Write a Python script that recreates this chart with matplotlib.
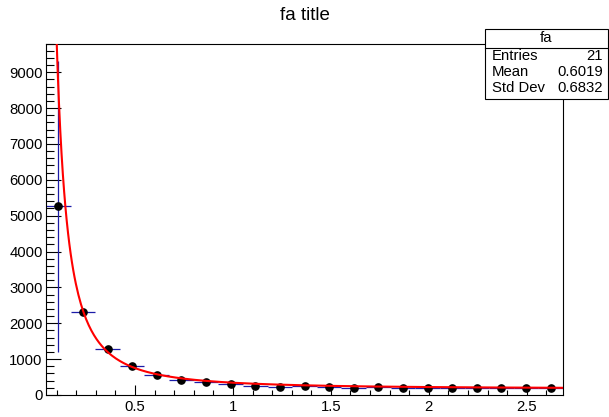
import numpy as np
import matplotlib
matplotlib.use("Agg")
import matplotlib.pyplot as plt
from matplotlib.ticker import MultipleLocator, FuncFormatter
from matplotlib.patches import Rectangle

plt.rcParams['font.family'] = ['Liberation Sans', 'DejaVu Sans']

# histogram "fa": 21 bins
x_low = 0.0456
x_high = 2.685
n_bins = 21
counts = [5265, 2320, 1290, 808, 549, 430, 353, 298, 259, 231, 242,
          214, 203, 214, 195, 195, 195, 195, 195, 203, 195]
errors = [4060, 0, 0, 0, 0, 0, 0, 0, 0, 0, 0,
          0, 0, 0, 0, 0, 0, 0, 0, 0, 0]

# fit parameters: p0 + p1 * x^(-p2)
p0 = 170.0
p1 = 172.6
p2 = 1.749

# stats box
stat_names = ["Entries", "Mean", "Std Dev"]
stat_values = ["21", "0.6019", "0.6832"]

edges = np.linspace(x_low, x_high, n_bins + 1)
centers = 0.5 * (edges[:-1] + edges[1:])
half_width = 0.5 * (edges[1] - edges[0])

fig = plt.figure(figsize=(6.09, 4.17), dpi=100)
ax = fig.add_axes([46 / 609, 22 / 417, 517 / 609, 351.5 / 417])

ax.errorbar(centers, counts, xerr=half_width, yerr=errors, fmt='none',
            ecolor='#1c1ca8', elinewidth=0.9, capsize=0, zorder=2)
ax.plot(centers, counts, 'o', color='black', markersize=5.2, zorder=3)

xf = np.linspace(x_low, x_high, 400)
ax.plot(xf, p0 + p1 * xf ** (-p2), color='red', linewidth=1.5, zorder=4)

ax.set_xlim(x_low, x_high)
ax.set_ylim(0, 9800)

ax.xaxis.set_major_locator(MultipleLocator(0.5))
ax.xaxis.set_minor_locator(MultipleLocator(0.1))
ax.yaxis.set_major_locator(MultipleLocator(1000))
ax.yaxis.set_minor_locator(MultipleLocator(200))
ax.xaxis.set_major_formatter(FuncFormatter(lambda v, p: '%g' % v))
ax.yaxis.set_major_formatter(FuncFormatter(lambda v, p: '%g' % v))

ax.tick_params(axis='x', which='major', direction='in', length=7.5, width=0.8,
               labelsize=10.7, pad=3.5)
ax.tick_params(axis='x', which='minor', direction='in', length=3.8, width=0.8)
ax.tick_params(axis='y', which='major', direction='in', length=11, width=0.8,
               labelsize=10.7, pad=2.5)
ax.tick_params(axis='y', which='minor', direction='in', length=5.5, width=0.8)
for s in ax.spines.values():
    s.set_linewidth(0.8)

fig.text(0.5, 1 - 16 / 417, 'fa title', ha='center', va='center', fontsize=13.5)

# stats box, top right, over the frame corner
bx0, bx1 = 485 / 609, 607.5 / 609
by_top, by_bot = 1 - 28.5 / 417, 1 - 99 / 417
fig.patches.append(Rectangle((bx0, by_bot), bx1 - bx0, by_top - by_bot,
                             transform=fig.transFigure, facecolor='white',
                             edgecolor='black', linewidth=0.8, zorder=10))
line_y = 1 - 47.7 / 417
fig.lines.append(plt.Line2D([bx0, bx1], [line_y, line_y], transform=fig.transFigure,
                            color='black', linewidth=0.8, zorder=11))
fig.text((bx0 + bx1) / 2, 1 - 38 / 417, 'fa', ha='center', va='center',
         fontsize=10.7, zorder=12)
rows_y = [55.5, 72, 88.5]
for name, val, yy in zip(stat_names, stat_values, rows_y):
    fig.text(492 / 609, 1 - yy / 417, name, ha='left', va='center',
             fontsize=10.7, zorder=12)
    fig.text(603 / 609, 1 - yy / 417, val, ha='right', va='center',
             fontsize=10.7, zorder=12)

fig.savefig('out.png', dpi=100)
